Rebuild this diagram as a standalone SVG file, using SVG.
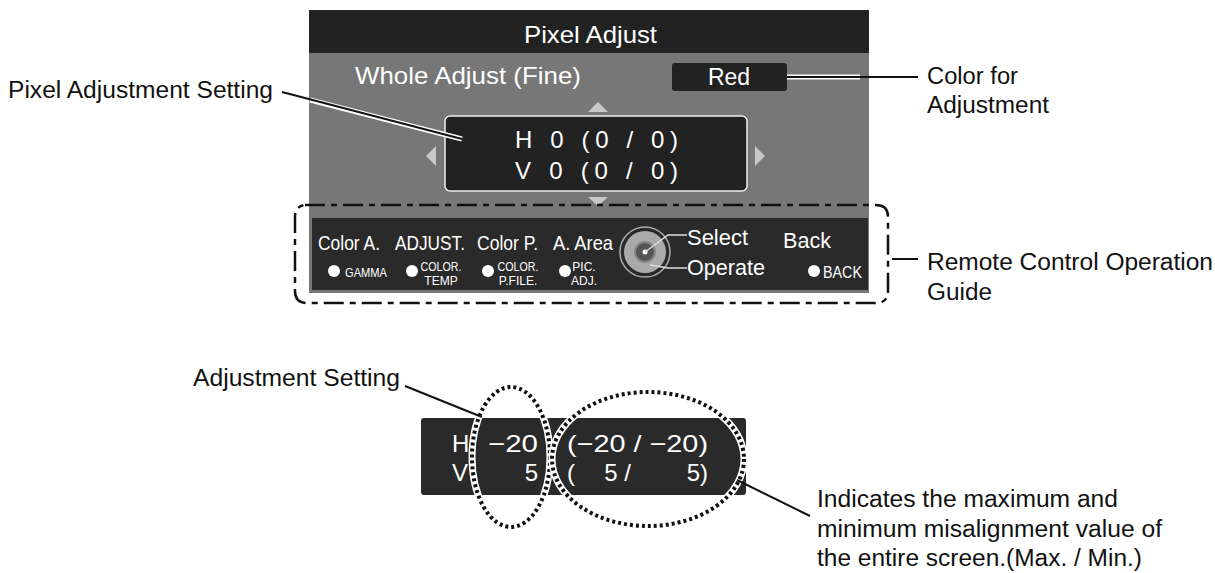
<svg xmlns="http://www.w3.org/2000/svg" width="1215" height="573" viewBox="0 0 1215 573">
<style>
text{font-family:"Liberation Sans",Arial,sans-serif}
.lab{font-size:23px;fill:#111}
.w{fill:#fff}
.lead{stroke:#111;stroke-width:2;fill:none}
.halo{stroke:#fff;stroke-width:5;fill:none}
.tri{fill:#c8c8c8}
.dot{fill:none;stroke:#111;stroke-width:4;stroke-dasharray:3,3}
.doth{fill:none;stroke:#fff;stroke-width:7}
</style>
<rect width="1215" height="573" fill="#fff"/>
<g id="panel">
<rect x="309" y="10" width="560" height="283" fill="#777"/>
<rect x="309" y="10" width="560" height="43" fill="#222"/>
<text x="524" y="43" class="w" font-size="24" textLength="133" lengthAdjust="spacingAndGlyphs">Pixel Adjust</text>
<text x="355" y="84" class="w" font-size="24" textLength="226" lengthAdjust="spacingAndGlyphs">Whole Adjust (Fine)</text>
<rect x="672" y="63" width="115" height="28" rx="3" fill="#222"/>
<text x="729" y="85" class="w" font-size="23" text-anchor="middle">Red</text>
<polygon class="tri" points="588,112 608,112 598,102"/>
<rect x="445" y="116" width="302" height="75" rx="5" fill="#222" stroke="#eee" stroke-width="1.5"/>
<text x="515" y="148" class="w" font-size="24" textLength="163" lengthAdjust="spacing">H 0 (0 / 0)</text>
<text x="515" y="179" class="w" font-size="24" textLength="163" lengthAdjust="spacing">V 0 (0 / 0)</text>
<polygon class="tri" points="588,197 608,197 598,206"/>
<rect x="312" y="218" width="556" height="72" fill="#2a2a2a"/>
</g>
<g id="guide">
<text x="318" y="250" class="w" font-size="21" textLength="62" lengthAdjust="spacingAndGlyphs">Color A.</text>
<text x="395" y="250" class="w" font-size="21" textLength="70" lengthAdjust="spacingAndGlyphs">ADJUST.</text>
<text x="477" y="250" class="w" font-size="21" textLength="61" lengthAdjust="spacingAndGlyphs">Color P.</text>
<text x="553" y="250" class="w" font-size="21" textLength="60" lengthAdjust="spacingAndGlyphs">A. Area</text>
<circle cx="334" cy="271" r="6" fill="#fff"/>
<text x="345" y="277" class="w" font-size="13" textLength="42" lengthAdjust="spacingAndGlyphs">GAMMA</text>
<circle cx="412" cy="271" r="6" fill="#fff"/>
<text x="441" y="271" class="w" font-size="12" text-anchor="middle" textLength="41" lengthAdjust="spacingAndGlyphs">COLOR.</text>
<text x="441" y="285" class="w" font-size="12" text-anchor="middle">TEMP</text>
<circle cx="488" cy="271" r="6" fill="#fff"/>
<text x="518" y="271" class="w" font-size="12" text-anchor="middle" textLength="41" lengthAdjust="spacingAndGlyphs">COLOR.</text>
<text x="518" y="285" class="w" font-size="12" text-anchor="middle">P.FILE.</text>
<circle cx="565" cy="271" r="6" fill="#fff"/>
<text x="584" y="271" class="w" font-size="12" text-anchor="middle">PIC.</text>
<text x="584" y="285" class="w" font-size="12" text-anchor="middle">ADJ.</text>
<circle cx="645" cy="252" r="25" fill="none" stroke="#aaa" stroke-width="1.5"/>
<circle cx="645" cy="252" r="21" fill="#aaa"/>
<circle cx="645" cy="252" r="10" fill="#555" stroke="#888" stroke-width="2"/>
<circle cx="645" cy="252" r="2.5" fill="#fff"/>
<path d="M645,252 L668,235 H687 M650,265 L668,268 H687" stroke="#ddd" stroke-width="1.5" fill="none"/>
<text x="687" y="245" class="w" font-size="22" textLength="61" lengthAdjust="spacingAndGlyphs">Select</text>
<text x="687" y="275" class="w" font-size="22" textLength="78" lengthAdjust="spacingAndGlyphs">Operate</text>
<text x="783" y="248" class="w" font-size="22" textLength="48" lengthAdjust="spacingAndGlyphs">Back</text>
<circle cx="814" cy="271" r="6" fill="#fff"/>
<text x="823" y="278" class="w" font-size="16" textLength="39" lengthAdjust="spacingAndGlyphs">BACK</text>
</g>
<g id="guideframe">
<path d="M305,205 H876 Q888,205 888,217 V291 Q888,303 876,303 H307 Q295,303 295,291 V217 Q295,205 307,205" fill="none" stroke="#111" stroke-width="2.5" stroke-dasharray="20,6,6,6"/>
</g>
<g id="value">
<rect x="421" y="418" width="325" height="77" rx="3" fill="#2a2a2a"/>
<text x="452" y="452" class="w" font-size="24">H</text>
<text x="452" y="481" class="w" font-size="24">V</text>
<text x="538" y="452" class="w" font-size="24" text-anchor="end" textLength="50" lengthAdjust="spacingAndGlyphs">−20</text>
<text x="538" y="481" class="w" font-size="24" text-anchor="end">5</text>
<text x="567" y="452" class="w" font-size="24" textLength="141" lengthAdjust="spacingAndGlyphs">(−20 / −20)</text>
<text x="567" y="481" class="w" font-size="24">(</text>
<text x="631" y="481" class="w" font-size="24" text-anchor="end">5 /</text>
<text x="708" y="481" class="w" font-size="24" text-anchor="end">5)</text>
<ellipse cx="511" cy="457" rx="39" ry="70" class="doth"/>
<ellipse cx="511" cy="457" rx="39" ry="70" class="dot"/>
<ellipse cx="648" cy="459" rx="96" ry="67" class="doth"/>
<ellipse cx="648" cy="459" rx="96" ry="67" class="dot"/>
</g>
<g id="labels">
<text x="8" y="98" class="lab" textLength="265" lengthAdjust="spacingAndGlyphs">Pixel Adjustment Setting</text>
<text x="927" y="84" class="lab" textLength="91" lengthAdjust="spacingAndGlyphs">Color for</text>
<text x="927" y="113" class="lab" textLength="122" lengthAdjust="spacingAndGlyphs">Adjustment</text>
<text x="927" y="270" class="lab" textLength="286" lengthAdjust="spacingAndGlyphs">Remote Control Operation</text>
<text x="927" y="300" class="lab" textLength="65" lengthAdjust="spacingAndGlyphs">Guide</text>
<text x="193" y="386" class="lab" textLength="207" lengthAdjust="spacingAndGlyphs">Adjustment Setting</text>
<text x="817" y="507" class="lab" textLength="301" lengthAdjust="spacingAndGlyphs">Indicates the maximum and</text>
<text x="817" y="537" class="lab" textLength="345" lengthAdjust="spacingAndGlyphs">minimum misalignment value of</text>
<text x="817" y="566" class="lab" textLength="325" lengthAdjust="spacingAndGlyphs">the entire screen.(Max. / Min.)</text>
</g>
<g id="connectors">
<path class="halo" d="M310,100 L462,139"/>
<path class="lead" d="M282,92 L462,139"/>
<path class="halo" d="M787,77 H860"/>
<path class="lead" d="M787,77 H918"/>
<path class="lead" d="M892,259 H918"/>
<path class="lead" d="M405,386 L482,417"/>
<path class="lead" d="M737,480 L810,516"/>
</g>
<polygon class="tri" points="436,146 436,166 426,156"/>
<polygon class="tri" points="755,146 755,166 765,156"/>
</svg>
